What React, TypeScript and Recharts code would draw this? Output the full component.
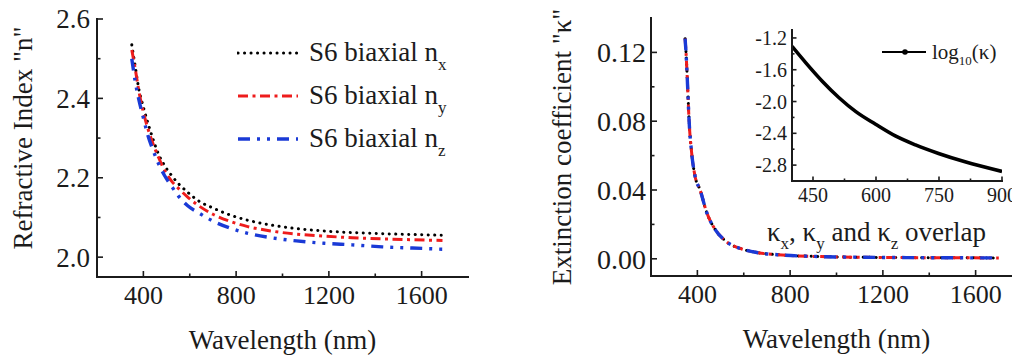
import React from "react";
import { LineChart, Line, XAxis, YAxis, Legend } from "recharts";

const SERIF = "'Liberation Serif', 'Times New Roman', serif";
const INK = "#1b1b1b";

// Refractive index along the three principal axes
const nWavelength = [350, 365, 380, 400, 420, 440, 465, 490, 520, 550, 590, 640, 700, 770, 850, 950, 1060, 1180, 1300, 1430, 1560, 1690];
const nX = [2.535, 2.48, 2.425, 2.378, 2.337, 2.3, 2.26, 2.232, 2.207, 2.186, 2.164, 2.141, 2.124, 2.107, 2.093, 2.081, 2.072, 2.066, 2.062, 2.059, 2.057, 2.055];
const nY = [2.522, 2.474, 2.42, 2.365, 2.323, 2.288, 2.252, 2.22, 2.193, 2.174, 2.152, 2.129, 2.108, 2.091, 2.077, 2.066, 2.058, 2.053, 2.049, 2.046, 2.044, 2.042];
const nZ = [2.5, 2.442, 2.398, 2.351, 2.306, 2.272, 2.236, 2.207, 2.18, 2.155, 2.13, 2.111, 2.091, 2.074, 2.06, 2.049, 2.041, 2.035, 2.031, 2.026, 2.023, 2.02];

const wlTicks = [400, 800, 1200, 1600];
const wlMinorTicks = [600, 1000, 1400];
const nTicks = [2.0, 2.2, 2.4, 2.6];
const nMinorTicks = [2.1, 2.3, 2.5];

// Extinction coefficient (kx, ky and kz coincide)
const kWavelength = [347, 351, 358, 364, 375, 390, 412, 440, 477, 520, 592, 664, 765, 900, 1100, 1300, 1500, 1700];
const kappa = [0.128, 0.12, 0.1, 0.081, 0.062, 0.048, 0.04, 0.027, 0.017, 0.0105, 0.0057, 0.0035, 0.0022, 0.0014, 0.0009, 0.0007, 0.0006, 0.0005];
const kTicks = [0, 0.04, 0.08, 0.12];
const kMinorTicks = [0.02, 0.06, 0.1];

// Inset: log10(kappa) over the visible range
const logWavelength = [400, 433, 472, 512, 552, 599, 646, 694, 749, 812, 900];
const logKappa = [-1.305, -1.513, -1.744, -1.952, -2.127, -2.286, -2.433, -2.546, -2.654, -2.759, -2.88];
const insetXTicks = [450, 600, 750, 900];
const insetXMinorTicks = [525, 675, 825];
const insetYTicks = [-2.8, -2.4, -2.0, -1.6, -1.2];
const insetYMinorTicks = [-2.6, -2.2, -1.8, -1.4];

const nRows = nWavelength.map((wl, i) => ({ wl, nx: nX[i], ny: nY[i], nz: nZ[i] }));
const kRows = kWavelength.map((wl, i) => ({ wl, k: kappa[i] }));
const logRows = logWavelength.map((wl, i) => ({ wl, logk: logKappa[i] }));

const axisSeries = [
  { key: "nx", sub: "x", color: "#000000", width: 3, dash: "0.1 6.4", cap: "round" as const },
  { key: "ny", sub: "y", color: "#ee1c1c", width: 3, dash: "10 4.5 3 4.5", cap: "butt" as const },
  { key: "nz", sub: "z", color: "#1a3ad6", width: 3.4, dash: "12 7 3 7 3 7", cap: "butt" as const },
];

const frame = { stroke: INK, strokeWidth: 2, strokeLinecap: "square" as const };

// ticks point inward; minor ticks are shorter and unlabeled
const makeTick =
  (side: "bottom" | "left", major: number[], digits: number, fontSize: number, gap: number, majorLen: number, minorLen: number) =>
  (p: any) => {
    const v = Number(p.payload.value);
    const isMajor = major.some((m) => Math.abs(m - v) < 1e-9);
    const len = isMajor ? majorLen : minorLen;
    const label = isMajor ? v.toFixed(digits) : "";
    if (side === "bottom") {
      const ay = p.y - gap;
      return (
        <g>
          <line x1={p.x} x2={p.x} y1={ay} y2={ay - len} stroke={INK} strokeWidth={1.6} />
          <text x={p.x} y={p.y} dy="0.71em" textAnchor="middle" fontFamily={SERIF} fontSize={fontSize} fill={INK}>
            {label}
          </text>
        </g>
      );
    }
    const ax = p.x + gap;
    return (
      <g>
        <line x1={ax} x2={ax + len} y1={p.y} y2={p.y} stroke={INK} strokeWidth={1.6} />
        <text x={p.x} y={p.y} dy="0.35em" textAnchor="end" fontFamily={SERIF} fontSize={fontSize} fill={INK}>
          {label}
        </text>
      </g>
    );
  };

const xTitle = (text: string) => (props: any) => {
  const vb = props.viewBox;
  return (
    <text x={vb.x + vb.width / 2} y={vb.y + vb.height + 42} textAnchor="middle" fontFamily={SERIF} fontSize={27} fill={INK}>
      {text}
    </text>
  );
};

const yTitle = (text: string, dx: number, dy: number) => (props: any) => {
  const vb = props.viewBox;
  const cx = vb.x + dx;
  const cy = vb.y + vb.height / 2 + dy;
  return (
    <text
      transform={`translate(${cx}, ${cy}) rotate(-90)`}
      textAnchor="middle"
      dominantBaseline="central"
      fontFamily={SERIF}
      fontSize={27}
      fill={INK}
    >
      {text}
    </text>
  );
};

const nLegend = () => (
  <div style={{ fontFamily: SERIF, color: INK }}>
    {axisSeries.map((s) => (
      <div key={s.key} style={{ display: "flex", alignItems: "center", height: 43 }}>
        <svg width={62} height={10}>
          <line x1={1} x2={61} y1={5} y2={5} stroke={s.color} strokeWidth={s.width} strokeDasharray={s.dash} strokeLinecap={s.cap} />
        </svg>
        <span style={{ fontSize: 27, marginLeft: 10, whiteSpace: "nowrap" }}>
          S6 biaxial n<span style={{ fontSize: 17, position: "relative", top: 9 }}>{s.sub}</span>
        </span>
      </div>
    ))}
  </div>
);

const logLegend = () => (
  <div style={{ fontFamily: SERIF, color: INK, display: "flex", alignItems: "center", height: 24 }}>
    <svg width={46} height={12}>
      <line x1={0} x2={44} y1={6} y2={6} stroke="#000" strokeWidth={2} />
      <circle cx={23} cy={6} r={2.8} fill="#000" />
    </svg>
    <span style={{ fontSize: 21, marginLeft: 4, whiteSpace: "nowrap" }}>
      log<span style={{ fontSize: 13, position: "relative", top: 6 }}>10</span>(κ)
    </span>
  </div>
);

export default function App() {
  return (
    <div style={{ position: "fixed", left: 0, top: 0, width: 1012, height: 359, overflow: "hidden", background: "#fff" }}>
      {/* refractive index */}
      <div style={{ position: "absolute", left: 0, top: 0 }}>
        <LineChart width={500} height={359} data={nRows} margin={{ top: 19, right: 32, bottom: 52, left: 37 }}>
          <XAxis
            dataKey="wl"
            type="number"
            domain={[200, 1800]}
            ticks={[...wlTicks, ...wlMinorTicks]}
            interval={0}
            tickSize={0}
            tickMargin={9}
            tickLine={false}
            axisLine={frame}
            tick={makeTick("bottom", wlTicks, 0, 26, 9, 6, 3.5)}
            label={xTitle("Wavelength (nm)")}
            allowDataOverflow
          />
          <XAxis xAxisId="top" orientation="top" type="number" domain={[200, 1800]} height={0} tick={false} tickLine={false} axisLine={frame} />
          <YAxis
            type="number"
            domain={[1.95, 2.6]}
            ticks={[...nTicks, ...nMinorTicks]}
            interval={0}
            width={60}
            tickSize={0}
            tickMargin={7}
            tickLine={false}
            axisLine={frame}
            tick={makeTick("left", nTicks, 1, 27, 7, 6, 3.5)}
            label={yTitle('Refractive Index "n"', -14, -10)}
            allowDataOverflow
          />
          <YAxis yAxisId="right" orientation="right" type="number" domain={[1.95, 2.6]} width={0} tick={false} tickLine={false} axisLine={frame} />
          {axisSeries.map((s) => (
            <Line
              key={s.key}
              dataKey={s.key}
              type="monotone"
              stroke={s.color}
              strokeWidth={s.width}
              strokeDasharray={s.dash}
              strokeLinecap={s.cap}
              dot={false}
              isAnimationActive={false}
            />
          ))}
          <Legend layout="horizontal" verticalAlign="middle" align="center" content={nLegend} wrapperStyle={{ left: 237, top: 31, width: 250 }} />
        </LineChart>
      </div>

      {/* extinction coefficient */}
      <div style={{ position: "absolute", left: 500, top: 0 }}>
        <LineChart width={560} height={359} data={kRows} margin={{ top: 18, right: 38, bottom: 53, left: 91 }}>
          <XAxis
            dataKey="wl"
            type="number"
            domain={[200, 1800]}
            ticks={[...wlTicks, ...wlMinorTicks]}
            interval={0}
            tickSize={0}
            tickMargin={9}
            tickLine={false}
            axisLine={frame}
            tick={makeTick("bottom", wlTicks, 0, 26, 9, 6, 3.5)}
            label={xTitle("Wavelength (nm)")}
            allowDataOverflow
          />
          <XAxis xAxisId="top" orientation="top" type="number" domain={[200, 1800]} height={0} tick={false} tickLine={false} axisLine={frame} />
          <YAxis
            type="number"
            domain={[-0.01, 0.14]}
            ticks={[...kTicks, ...kMinorTicks]}
            interval={0}
            width={60}
            tickSize={0}
            tickMargin={5}
            tickLine={false}
            axisLine={frame}
            tick={makeTick("left", kTicks, 2, 28, 5, 6, 3.5)}
            label={yTitle('Extinction coefficient "κ"', -29, 0)}
            allowDataOverflow
          />
          <YAxis yAxisId="right" orientation="right" type="number" domain={[-0.01, 0.14]} width={0} tick={false} tickLine={false} axisLine={frame} />
          {axisSeries.map((s) => (
            <Line
              key={s.key}
              dataKey="k"
              type="monotone"
              stroke={s.color}
              strokeWidth={s.width}
              strokeDasharray={s.dash}
              strokeLinecap={s.cap}
              dot={false}
              isAnimationActive={false}
            />
          ))}
        </LineChart>
      </div>

      {/* inset: log10(kappa) */}
      <div style={{ position: "absolute", left: 740, top: 0 }}>
        <LineChart width={272} height={215} data={logRows} margin={{ top: 30, right: 10, bottom: 4, left: 7 }}>
          <XAxis
            dataKey="wl"
            type="number"
            domain={[400, 900]}
            ticks={[...insetXTicks, ...insetXMinorTicks]}
            interval={0}
            tickSize={0}
            tickMargin={7}
            tickLine={false}
            axisLine={frame}
            tick={makeTick("bottom", insetXTicks, 0, 20, 7, 4.5, 2.5)}
            allowDataOverflow
          />
          <XAxis xAxisId="top" orientation="top" type="number" domain={[400, 900]} height={0} tick={false} tickLine={false} axisLine={frame} />
          <YAxis
            type="number"
            domain={[-3.0, -1.1]}
            ticks={[...insetYTicks, ...insetYMinorTicks]}
            interval={0}
            width={45}
            tickSize={0}
            tickMargin={5}
            tickLine={false}
            axisLine={frame}
            tick={makeTick("left", insetYTicks, 1, 20, 5, 4.5, 2.5)}
            allowDataOverflow
          />
          <YAxis yAxisId="right" orientation="right" type="number" domain={[-3.0, -1.1]} width={0} tick={false} tickLine={false} axisLine={frame} />
          <Line dataKey="logk" type="monotone" stroke="#000" strokeWidth={3.6} dot={false} isAnimationActive={false} />
          <Legend layout="horizontal" verticalAlign="middle" align="center" content={logLegend} wrapperStyle={{ left: 142, top: 40, width: 130 }} />
        </LineChart>
      </div>

      <div
        style={{
          position: "absolute",
          left: 767,
          top: 219,
          fontFamily: SERIF,
          fontSize: 27,
          lineHeight: 1,
          color: INK,
          whiteSpace: "nowrap",
        }}
      >
        κ<span style={{ fontSize: 17, position: "relative", top: 8 }}>x</span>, κ
        <span style={{ fontSize: 17, position: "relative", top: 8 }}>y</span> and κ
        <span style={{ fontSize: 17, position: "relative", top: 8 }}>z</span> overlap
      </div>
    </div>
  );
}
